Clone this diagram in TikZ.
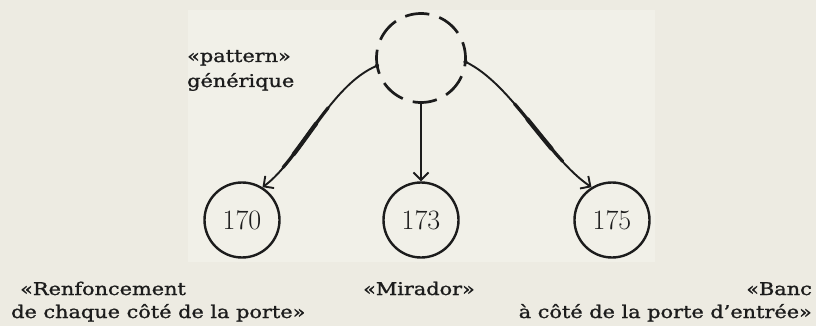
\documentclass[tikz,border=0pt]{standalone}
\usepackage{fontspec}
\usetikzlibrary{arrows.meta}
\newfontfamily\labfont[FakeStretch=1.19,FakeBold=1.3]{DejaVu Serif}
\definecolor{paper}{HTML}{EDEBE2}
\definecolor{patch}{HTML}{F1F0E8}
\definecolor{ink}{HTML}{1C1C1C}
\begin{document}
\begin{tikzpicture}[x=1pt,y=-1pt,
  lab/.style={font=\labfont\fontsize{17.5}{21}\selectfont, text=ink, inner sep=0pt},
  numc/.style={circle, draw=ink, line width=2.4pt, minimum size=75pt, inner sep=0pt,
    font=\fontsize{28}{32}\selectfont, text=ink},
  gen/.style={draw=ink, line width=2.7pt},
  link/.style={draw=ink, line width=1.9pt,
    -{Straight Barb[length=7.5pt,width=15pt,line width=1.9pt]}},
  swellA/.style={draw=ink, line width=3.2pt, line cap=round,
    dash pattern=on 0pt off 65pt on 75pt off 400pt},
  swellB/.style={draw=ink, line width=4.2pt, line cap=round,
    dash pattern=on 0pt off 85pt on 38pt off 400pt}]
\useasboundingbox (0,0) rectangle (816,326);
\fill[paper] (0,0) rectangle (816,326);
\fill[patch] (188,10) rectangle (655,262);

% generic pattern (dashed circle)
\node[circle, minimum size=89pt, inner sep=0pt] (g) at (421,58) {};
\foreach \c in {5,50,95,140,185,230,275,320}
  \draw[gen] (g.center) ++(-\c-15.75:44.5) arc[start angle=-\c-15.75, delta angle=31.5, radius=44.5];

% numbered patterns
\node[numc] (c170) at (242,220) {170};
\node[numc] (c173) at (421,220) {173};
\node[numc] (c175) at (612,220) {175};

% connectors
\draw[link] (g.190) .. controls (330,85) and (300,160) .. (c170.58);
\path[swellA] (g.190) .. controls (330,85) and (300,160) .. (c170.58);
\path[swellB] (g.190) .. controls (330,85) and (300,160) .. (c170.58);
\draw[link] (g.south) -- (c173.north);
\draw[link] (g.355) .. controls (512,84) and (548,158) .. (c175.122);
\path[swellA] (g.355) .. controls (512,84) and (548,158) .. (c175.122);
\path[swellB] (g.355) .. controls (512,84) and (548,158) .. (c175.122);

% labels
\node[lab, anchor=base west] (l1) at (187,62) {«pattern»};
\node[lab, anchor=base west] (l2) at (187,87) {générique};
\node[lab, anchor=base west] (r1) at (20,295) {«Renfoncement};
\node[lab, anchor=base west] (r2) at (11,318) {de chaque côté de la porte»};
\node[lab, anchor=base] (m1) at (419,295) {«Mirador»};
\node[lab, anchor=base east] (b1) at (812,295) {«Banc};
\node[lab, anchor=base east] (b2) at (812,318) {à côté de la porte d’entrée»};
\end{tikzpicture}
\end{document}
